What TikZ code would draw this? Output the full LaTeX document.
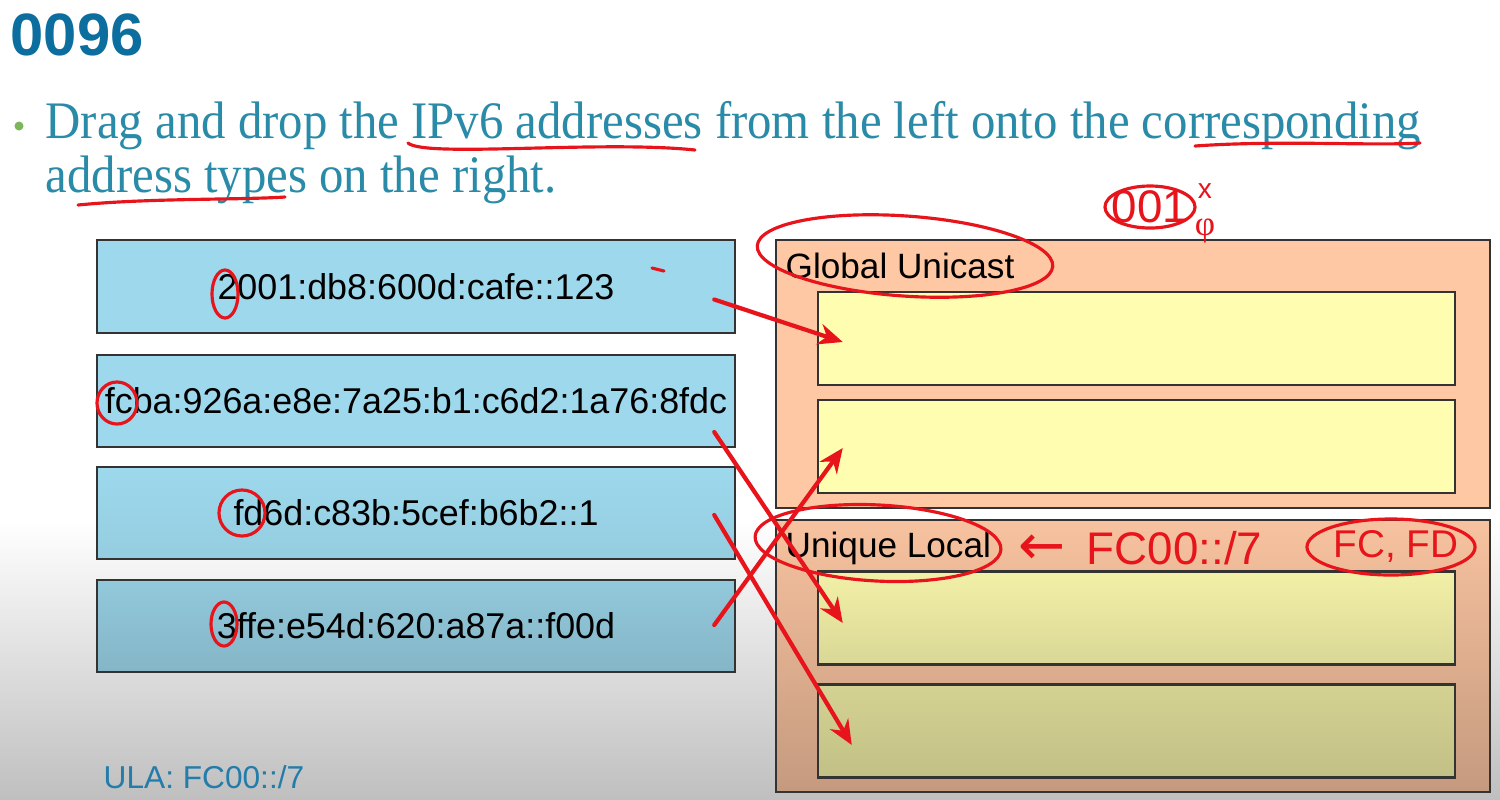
\documentclass[tikz,border=0pt]{standalone}
\usepackage{fontspec}
\setmainfont{Liberation Serif}
\setsansfont{Liberation Sans}
\newfontfamily\questionfont{Liberation Serif}[FakeStretch=0.925]
\newfontfamily\arrowfont{DejaVu Sans}
\usetikzlibrary{arrows.meta}

\definecolor{titleblue}{HTML}{0B6E9F}
\definecolor{textteal}{HTML}{2A8BA8}
\definecolor{bulletgreen}{HTML}{7DB65A}
\definecolor{addrblue}{HTML}{9DD8EC}
\definecolor{peach}{HTML}{FFC8A4}
\definecolor{pale}{HTML}{FFFDB0}
\definecolor{frame}{HTML}{333333}
\definecolor{pen}{HTML}{E8141B}

\tikzset{
    addr/.style = {draw=frame, line width=0.6pt, minimum width=6.38cm, minimum height=0.92cm,
                   font=\sffamily\fontsize{10.2}{12}\selectfont, inner sep=0pt},
    slot/.style = {draw=frame, line width=0.6pt, minimum width=6.37cm, minimum height=0.93cm},
    panel/.style = {draw=frame, line width=0.6pt, minimum width=7.14cm},
    ink/.style = {draw=pen, line width=0.9pt, line cap=round},
    match/.style = {draw=pen, line width=1.2pt, line cap=round, -{Stealth[length=7pt, width=6pt]}},
    handtext/.style = {text=pen, font=\sffamily\fontsize{13}{14}\selectfont, inner sep=0pt}
}

\begin{document}
\begin{tikzpicture}[x=0.01cm, y=-0.01cm]
    \useasboundingbox (0,0) rectangle (1500,799);
    % background, greyer towards the bottom
    \fill[white] (0,0) rectangle (1500,520);
    \shade[top color=white, bottom color=black!25] (0,520) rectangle (1500,799);

    % heading and question
    \node (title) [anchor=base west, inner sep=0pt, text=titleblue,
                   font=\sffamily\bfseries\fontsize{17}{20}\selectfont] at (10,55) {0096};
    \fill[bulletgreen] (19,126) circle (0.045cm);
    \node (line1) [anchor=base west, inner sep=0pt, text=textteal, font=\questionfont\fontsize{15}{18}\selectfont]
        at (45,138) {Drag and drop the IPv6 addresses from the left onto the corresponding};
    \node (line2) [anchor=base west, inner sep=0pt, text=textteal, font=\questionfont\fontsize{15}{18}\selectfont]
        at (45,192) {address types on the right.};

    % addresses on the left
    \node (addrA) [addr, fill=addrblue, minimum height=0.93cm] at (416,286.5) {2001:db8:600d:cafe::123};
    \node (addrB) [addr, fill=addrblue] at (416,401) {fcba:926a:e8e:7a25:b1:c6d2:1a76:8fdc};
    \node (addrC) [addr, top color=addrblue, bottom color=addrblue!95!black] at (416,513) {fd6d:c83b:5cef:b6b2::1};
    \node (addrD) [addr, top color=addrblue!93!black, bottom color=addrblue!84!black] at (416,626) {3ffe:e54d:620:a87a::f00d};

    % address types on the right
    \node (global) [panel, fill=peach, minimum height=2.68cm] at (1133,374) {};
    \node (unique) [panel, top color=peach!97!black, bottom color=peach!77!black, minimum height=2.72cm] at (1133,656) {};
    \node (globalLbl) [anchor=base west, inner sep=0pt, font=\sffamily\fontsize{10}{12}\selectfont] at (785,278) {Global Unicast};
    \node (uniqueLbl) [anchor=base west, inner sep=0pt, font=\sffamily\fontsize{10}{12}\selectfont] at (785,557) {Unique Local};
    \node (gu1) [slot, fill=pale] at (1136.5,338.5) {};
    \node (gu2) [slot, fill=pale] at (1136.5,446.5) {};
    \node (ul1) [slot, top color=pale!95!black, bottom color=pale!85!black] at (1136.5,618) {};
    \node (ul2) [slot, top color=pale!83!black, bottom color=pale!76!black] at (1136.5,731) {};

    \node (note) [anchor=base west, inner sep=0pt, text=titleblue!90!white,
                  font=\sffamily\fontsize{9}{11}\selectfont] at (103,788) {ULA: FC00::/7};

    % red pen: matching arrows
    \draw[match] ([shift={(-22,13)}]addrA.east) -- ([shift={(26,3.5)}]gu1.west);
    \draw[match] ([shift={(-22,31)}]addrB.east) -- ([shift={(26,5)}]ul1.west);
    \draw[match] ([shift={(-22,2)}]addrC.east) -- ([shift={(35,14)}]ul2.west);
    \draw[match] ([shift={(-22,-1)}]addrD.east) -- ([shift={(26,1.5)}]gu2.west);

    % red pen: underlines
    \draw[ink] (408,143) .. controls (425,158) and (600,140) .. (695,150);
    \draw[ink] (1195,146) .. controls (1280,140) and (1370,146) .. (1420,143);
    \draw[ink] (78,205) .. controls (150,198) and (240,200) .. (285,197);
    \draw[ink] (652,268) -- (664,271);

    % red pen: circles and notes
    \draw[ink] (225,294) ellipse (0.13cm and 0.24cm);
    \draw[ink] (117,403) ellipse (0.2cm and 0.21cm);
    \draw[ink] (242,513) ellipse (0.23cm and 0.23cm);
    \draw[ink] (224,624) ellipse (0.13cm and 0.22cm);
    \draw[ink, rotate around={-4:(905,256)}] (905,256) ellipse (1.48cm and 0.4cm);
    \draw[ink, rotate around={-3:(878,543)}] (878,543) ellipse (1.23cm and 0.38cm);
    \draw[ink] (1150,207) ellipse (0.45cm and 0.21cm);
    \draw[ink] (1391,547) ellipse (0.84cm and 0.28cm);

    \node (bits) [handtext] at (1150,207) {001};
    \node (bitX) [handtext, font=\sffamily\fontsize{8}{9}\selectfont] at (1205,191) {x};
    \node (bitPhi) [handtext, font=\fontsize{10}{11}\selectfont] at (1205,231) {φ};
    \node (prefix) [handtext, anchor=west] at (1018,548) {{\arrowfont\fontsize{16}{16}\selectfont ←}\hspace{6pt}FC00::/7};
    \node (pair) [handtext, font=\sffamily\fontsize{11}{12}\selectfont] at (1396,546) {FC, FD};
\end{tikzpicture}
\end{document}
